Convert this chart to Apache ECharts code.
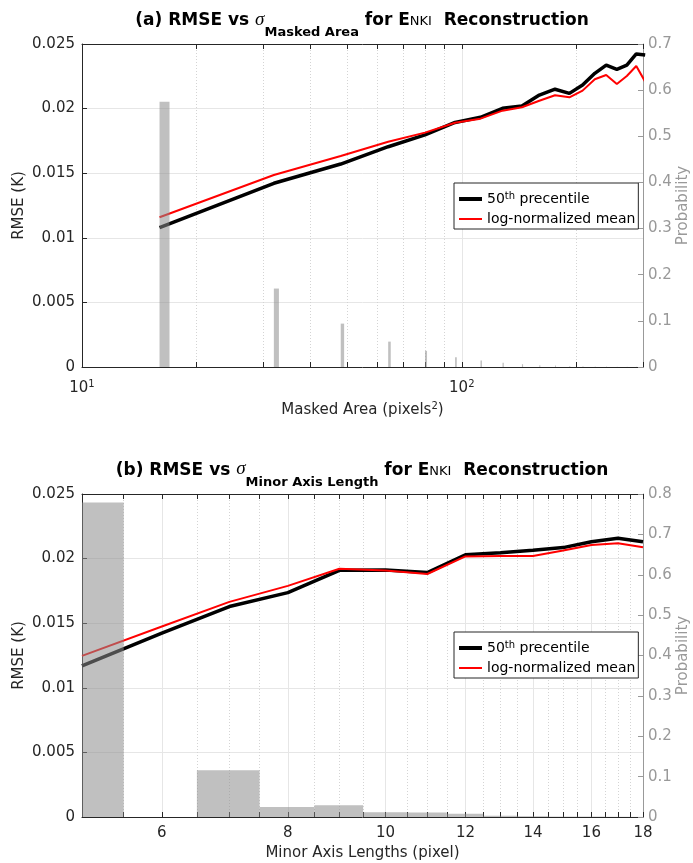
<!DOCTYPE html>
<html><head><meta charset="utf-8">
<script src="https://cdn.jsdelivr.net/npm/echarts@6/dist/echarts.min.js"></script>
<style>html,body{margin:0;padding:0;background:#fff}#c{width:693px;height:863px}</style>
</head><body><div id="c"></div>
<script>
// ---------- (a) Masked Area ----------
const areaX = [16,32,48,64,80,96,112,128,144,160,176,192,208,224,240,256,272,288,304];
const areaP50 = [0.01078,0.01422,0.01571,0.01705,0.01796,0.01893,0.01933,0.02002,0.02020,0.02105,0.02150,0.02118,0.02183,0.02273,0.02337,0.02304,0.02337,0.02423,0.02415];
const areaMean = [0.01159,0.01486,0.01633,0.01744,0.01814,0.01891,0.01922,0.01984,0.02010,0.02061,0.02103,0.02087,0.02139,0.02227,0.02260,0.02190,0.02252,0.02330,0.02208];
const areaBinX = [16.5,32.5,48.5,64.5,80.5,96.5,112.5,128.5,144.5,160.5,176.5,192.5,208.5,224.5,240.5,256.5,272.5,288.5];
const areaProb = [0.575,0.170,0.094,0.055,0.035,0.021,0.014,0.009,0.006,0.004,0.003,0.002,0.0015,0.001,0.001,0.0005,0.0005,0.0003];
const areaMajorTicks = [10,100];
const areaMinorTicks = [20,30,40,50,60,70,80,90,200,300];

// ---------- (b) Minor Axis Length ----------
const minorX = [5,6,7,8,9,10,11,12,13,14,15,16,17,18];
const minorP50 = [0.01170,0.01423,0.01629,0.01737,0.01909,0.01912,0.01892,0.02030,0.02046,0.02065,0.02085,0.02131,0.02157,0.02131];
const minorMean = [0.01247,0.01474,0.01665,0.01789,0.01922,0.01907,0.01881,0.02017,0.02020,0.02020,0.02062,0.02106,0.02119,0.02088];
const minorBinX = [5,6,7,8,9,10,11,12,13,14,15,16,17,18];
const minorProb = [0.779,0,0.116,0.0249,0.029,0.0116,0.011,0.0083,0.003,0.002,0.001,0.001,0.0005,0.0003];
const minorMajorTicks = [6,8,10,12,14,16,18];
const minorMinorTicks = [5.5,6.5,7,7.5,8.5,9,9.5,10.5,11,11.5,12.5,13,13.5,14.5,15,15.5,16.5,17,17.5];

const seriesNames = ['50th precentile','log-normalized mean'];
const titleA = ['(a) RMSE vs ', 'σ', 'Masked Area', ' for ', 'E', 'NKI', '  Reconstruction'];
const titleB = ['(b) RMSE vs ', 'σ', 'Minor Axis Length', ' for ', 'E', 'NKI', '  Reconstruction'];

const AX = '#262626', GR = '#999999', FF = 'DejaVu Sans';
const chart = echarts.init(document.getElementById('c'), null, {renderer:'canvas'});

const panels = [
  {top:44, xmin:10, xmax:300, pmax:0.7, major:areaMajorTicks, minor:areaMinorTicks,
   x:areaX, p50:areaP50, mean:areaMean, bx:areaBinX, prob:areaProb,
   xname:'Masked Area (pixels{sup|2})', nameGap:34, labelMargin:12,
   fmt: v => '10{sup|' + Math.round(Math.log10(v)) + '}', legendTop:183},
  {top:494, xmin:5, xmax:18, pmax:0.8, major:minorMajorTicks, minor:minorMinorTicks,
   x:minorX, p50:minorP50, mean:minorMean, bx:minorBinX, prob:minorProb,
   xname:'Minor Axis Lengths (pixel)', nameGap:27, labelMargin:7,
   fmt: v => String(v), legendTop:632}
];

const grid = [], xAxis = [], yAxis = [], series = [], legend = [];
const supRich = {sup:{fontFamily:FF, fontSize:10, lineHeight:10, verticalAlign:'top', color:AX}};

function barRender(params, api) {
  const x = api.value(0), p = api.value(1);
  const a = api.coord([x - 0.5, p]);
  const b = api.coord([x + 0.5, 0]);
  const cs = params.coordSys;
  const r = echarts.graphic.clipRectByRect(
    {x:a[0], y:a[1], width:b[0]-a[0], height:b[1]-a[1]},
    {x:cs.x, y:cs.y, width:cs.width, height:cs.height});
  if (!r || r.height <= 0) return;
  return {type:'rect', shape:r, style:{fill:'rgba(140,140,140,0.55)'}};
}

panels.forEach((P, g) => {
  grid.push({left:82, top:P.top, width:561, height:323, outerBoundsMode:'none', containLabel:false});
  const base = {type:'log', logBase:10, min:P.xmin, max:P.xmax, gridIndex:g};
  const allTicks = P.major.concat(P.minor).sort((a,b)=>a-b);
  xAxis.push(Object.assign({}, base, {
    position:'bottom',
    axisLine:{show:true, onZero:false, lineStyle:{color:AX, width:1}},
    axisTick:{show:true, inside:true, length:5, customValues:allTicks, lineStyle:{color:AX}},
    axisLabel:{show:true, customValues:P.major, formatter:P.fmt, margin:P.labelMargin,
      fontFamily:FF, fontSize:15, color:AX, lineHeight:18, rich:supRich},
    splitLine:{show:false},
    name:P.xname, nameLocation:'middle', nameGap:P.nameGap,
    nameTextStyle:{fontFamily:FF, fontSize:15, color:AX, lineHeight:18, rich:supRich}
  }));
  xAxis.push(Object.assign({}, base, {
    position:'top',
    axisLine:{show:true, onZero:false, lineStyle:{color:AX, width:1}},
    axisTick:{show:true, inside:true, length:5, customValues:allTicks, lineStyle:{color:AX}},
    axisLabel:{show:false}, splitLine:{show:false}
  }));
  xAxis.push(Object.assign({}, base, {
    position:'bottom',
    axisLine:{show:false, onZero:false}, axisTick:{show:false, customValues:P.major},
    axisLabel:{show:false}, splitLine:{show:true, lineStyle:{color:'#e6e6e6', width:1}}
  }));
  xAxis.push(Object.assign({}, base, {
    position:'bottom',
    axisLine:{show:false, onZero:false}, axisTick:{show:false, customValues:P.minor},
    axisLabel:{show:false}, splitLine:{show:true, lineStyle:{color:'#d4d4d4', width:1, type:[1,2]}}
  }));
  yAxis.push({
    type:'value', gridIndex:g, position:'left', min:0, max:0.025, interval:0.005,
    axisLine:{show:true, onZero:false, lineStyle:{color:AX}},
    axisTick:{show:true, inside:true, length:5, lineStyle:{color:AX}},
    axisLabel:{fontFamily:FF, fontSize:15, color:AX, margin:7},
    splitLine:{show:true, lineStyle:{color:'#e6e6e6'}},
    name:'RMSE (K)', nameLocation:'middle', nameGap:55, nameRotate:90, nameMoveOverlap:false,
    nameTextStyle:{fontFamily:FF, fontSize:15, color:AX}
  });
  yAxis.push({
    type:'value', gridIndex:g, position:'right', min:0, max:P.pmax, interval:0.1,
    axisLine:{show:true, onZero:false, lineStyle:{color:GR}},
    axisTick:{show:true, inside:true, length:5, lineStyle:{color:GR}},
    axisLabel:{fontFamily:FF, fontSize:15, color:GR, margin:5},
    splitLine:{show:false},
    name:'Probability', nameLocation:'middle', nameGap:33, nameRotate:90, nameMoveOverlap:false,
    nameTextStyle:{fontFamily:FF, fontSize:15, color:GR}
  });
  const xi = g*4, yi = g*2;
  series.push({
    type:'line', name:seriesNames[0], xAxisIndex:xi, yAxisIndex:yi,
    data:P.x.map((v,i)=>[v, P.p50[i]]), symbol:'none', showSymbol:false,
    lineStyle:{color:'#000', width:3.5}, itemStyle:{color:'#000'}, z:2, animation:false
  });
  series.push({
    type:'line', name:seriesNames[1], xAxisIndex:xi, yAxisIndex:yi,
    data:P.x.map((v,i)=>[v, P.mean[i]]), symbol:'none', showSymbol:false,
    lineStyle:{color:'#ff0000', width:2}, itemStyle:{color:'#ff0000'}, z:3, animation:false
  });
  series.push({
    type:'custom', name:'prob'+g, xAxisIndex:xi, yAxisIndex:yi+1,
    data:P.bx.map((v,i)=>[v, P.prob[i]]), renderItem:barRender, z:5, animation:false, silent:true
  });
  legend.push({
    orient:'vertical', left:454, top:P.legendTop, itemWidth:23, itemHeight:14, itemGap:4,
    padding:[8,3,2,3], backgroundColor:'#fff', borderColor:AX, borderWidth:1, borderRadius:0,
    selectedMode:false,
    textStyle:{fontFamily:FF, fontSize:14, color:'#000', lineHeight:16,
      rich:{sup:{fontFamily:FF, fontSize:10, lineHeight:10, verticalAlign:'top', color:'#000'}}},
    formatter: n => n === seriesNames[0] ? '50{sup|th} precentile' : n,
    data:[{name:seriesNames[0], lineStyle:{width:4, color:'#000', opacity:1},
           itemStyle:{color:'rgba(0,0,0,0)', borderWidth:0, opacity:0}},
          {name:seriesNames[1], lineStyle:{width:2, color:'#ff0000', opacity:1},
           itemStyle:{color:'rgba(0,0,0,0)', borderWidth:0, opacity:0}}]
  });
});

// Title built from pieces laid out side by side on a common baseline
const measureCtx = document.createElement('canvas').getContext('2d');
const pieceFonts = [
  {font:'bold 17px "DejaVu Sans"', fs:17, dy:0},
  {font:'italic 19px "Liberation Serif"', fs:19, dy:0},
  {font:'bold 13px "DejaVu Sans"', fs:13, dy:11},
  {font:'bold 17px "DejaVu Sans"', fs:17, dy:0},
  {font:'bold 17px "DejaVu Sans"', fs:17, dy:0},
  {font:'13px "DejaVu Sans"', fs:13, dy:0},
  {font:'bold 17px "DejaVu Sans"', fs:17, dy:0}
];
function titleEls(parts, cx, baseline) {
  const widths = parts.map((t, i) => { measureCtx.font = pieceFonts[i].font; return measureCtx.measureText(t).width; });
  const total = widths.reduce((s, w) => s + w, 0);
  let x = cx - total / 2;
  return parts.map((t, i) => {
    const f = pieceFonts[i];
    const el = {type:'text', x:x, y:baseline + f.dy - 0.345 * f.fs, silent:true,
      style:{text:t, font:f.font, fill:'#000', align:'left', verticalAlign:'middle'}};
    x += widths[i];
    return el;
  });
}

chart.setOption({
  animation:false,
  textStyle:{fontFamily:FF},
  grid, xAxis, yAxis, series, legend,
  graphic: titleEls(titleA, 362, 26.5).concat(titleEls(titleB, 362, 476))
});
</script></body></html>
